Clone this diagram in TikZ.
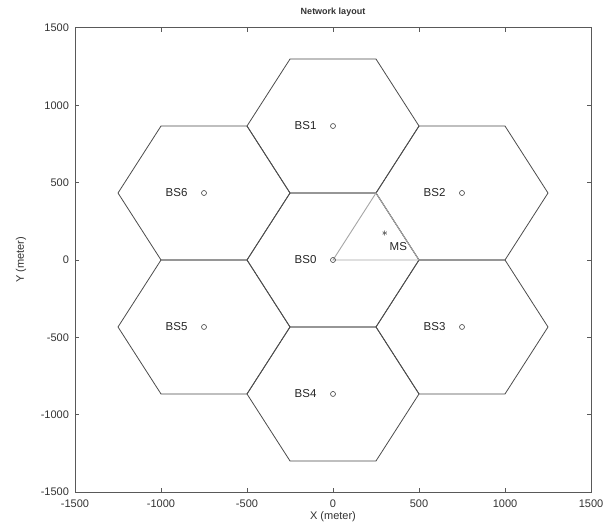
\documentclass[tikz,border=0pt]{standalone}
\usepackage{fontspec}
\setmainfont{Liberation Sans}
\begin{document}
\begin{tikzpicture}[x=1pt,y=1pt,
  hexline/.style={draw=black!70,line width=0.8pt},
  triline/.style={draw=black!35,line width=0.9pt},
  axisline/.style={draw=black!65,line width=0.9pt},
  bsmark/.style={circle,draw=black!75,line width=0.6pt,inner sep=0pt,minimum size=5pt},
  bslabel/.style={font=\fontsize{11.5}{13}\selectfont,text=black!85},
  ticklab/.style={font=\fontsize{11}{13}\selectfont,text=black!80},
  axlab/.style={font=\fontsize{11}{13}\selectfont,text=black!80}]
\useasboundingbox (0,0) rectangle (610,526);
\fill[white] (0,0) rectangle (610,526);
\begin{scope}[shift={(333,266)},x=0.172pt,y=0.1547pt]
  % axes box
  \coordinate (bl) at (-1500,-1500);
  \coordinate (tr) at (1500,1500);
  \draw[axisline] (bl) rectangle (tr);
  % ticks
  \foreach \v in {-1000,-500,0,500,1000}{
    \draw[axisline,line width=0.6pt] (\v,-1500) -- ++(0,25);
    \draw[axisline,line width=0.6pt] (\v,1500) -- ++(0,-25);
    \draw[axisline,line width=0.6pt] (-1500,\v) -- ++(22,0);
    \draw[axisline,line width=0.6pt] (1500,\v) -- ++(-22,0);
  }
  \foreach \v/\t in {-1500/-1500,-1000/-1000,-500/-500,0/0,500/500,1000/1000,1500/1500}{
    \node[ticklab,anchor=east] at (-1515,\v) {\t};
    \node[ticklab,anchor=north] at (\v,-1530) {\t};
  }
  % hexagons
  \foreach \cx/\cy in {0/0,0/866,750/433,750/-433,0/-866,-750/-433,-750/433}{
    \draw[hexline] (\cx+500,\cy) -- (\cx+250,\cy+433) -- (\cx-250,\cy+433)
      -- (\cx-500,\cy) -- (\cx-250,\cy-433) -- (\cx+250,\cy-433) -- cycle;
  }
  % triangle
  \coordinate (t0) at (0,0);
  \coordinate (t1) at (250,433);
  \coordinate (t2) at (500,0);
  \draw[triline] (t0) -- (t1) -- (t2) -- cycle;
  % base stations
  \foreach \n/\cx/\cy in {0/0/0,1/0/866,2/750/433,3/750/-433,4/0/-866,5/-750/-433,6/-750/433}{
    \node[bsmark] (bs\n) at (\cx,\cy) {};
    \node[bslabel,anchor=east] (lab\n) at ([xshift=-13pt]bs\n.center) {BS\n};
  }
  % mobile station
  \node[font=\bfseries\fontsize{12}{12}\selectfont,inner sep=0pt] (ms) at (302,170) {$\ast$};
  \node[bslabel] (mslab) at (380,88) {MS};
\end{scope}
\node[font=\bfseries\fontsize{9}{10}\selectfont,text=black!80] (title) at (333,514) {Network layout};
\node[axlab] (xlab) at (333,9) {X (meter)};
\node[axlab,rotate=90] (ylab) at (21,266) {Y (meter)};
\end{tikzpicture}
\end{document}
